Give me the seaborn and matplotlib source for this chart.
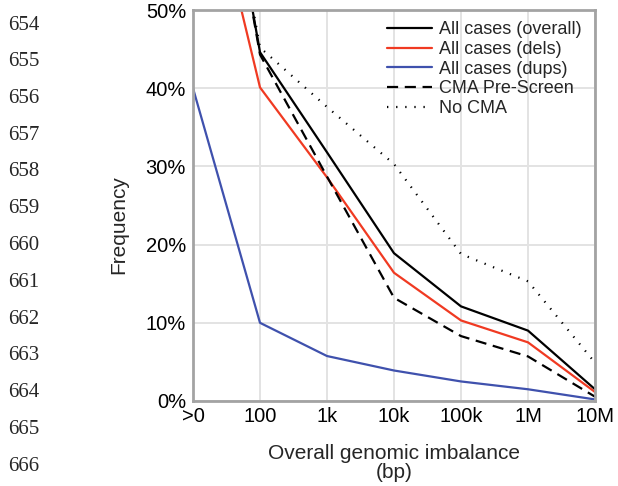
import seaborn as sns
import matplotlib.pyplot as plt
import pandas as pd

# x categories (log-spaced bins of imbalance size)
x_labels = [">0", "100", "1k", "10k", "100k", "1M", "10M"]

# frequencies in %
overall = [93, 44.6, 31.8, 18.9, 12.1, 9.0, 1.5]
dels = [75.7, 40.1, 28.6, 16.4, 10.3, 7.5, 1.15]
dups = [40.0, 10.0, 5.75, 3.9, 2.5, 1.5, 0.2]
pre_screen = [93, 44.3, 28.7, 13.2, 8.3, 5.7, 0.55]
no_cma = [93, 45.2, 37.6, 30.3, 18.8, 15.3, 4.9]

series_names = ["All cases (overall)", "All cases (dels)", "All cases (dups)",
                "CMA Pre-Screen", "No CMA"]
series_vals = [overall, dels, dups, pre_screen, no_cma]
colors = ["black", "#f03a22", "#3f51ad", "black", "black"]
styles = ["-", "-", "-", (0, (5, 3)), (0, (0.6, 3.5))]

line_numbers = list(range(654, 667))

rows = []
for name, vals in zip(series_names, series_vals):
    for i, v in enumerate(vals):
        rows.append({"series": name, "x": i, "freq": v})
df = pd.DataFrame(rows)

sns.set_theme(style="whitegrid")
plt.rcParams["font.family"] = ["Liberation Sans", "DejaVu Sans"]

fig = plt.figure(figsize=(6.18, 4.86), dpi=100)
ax = fig.add_axes([193 / 618, 1 - 401 / 486, 402 / 618, 391 / 486])

for name, c, ls in zip(series_names, colors, styles):
    sub = df[df["series"] == name]
    sns.lineplot(data=sub, x="x", y="freq", ax=ax, color=c, linestyle=ls,
                 linewidth=1.6, label=name)

ax.set_xlim(0, len(x_labels) - 1)
ax.set_ylim(0, 50)
ax.set_xticks(range(len(x_labels)))
ax.set_xticklabels(x_labels)
ax.set_yticks([0, 10, 20, 30, 40, 50])
ax.set_yticklabels([f"{t}%" for t in [0, 10, 20, 30, 40, 50]])

ax.grid(True, color="#e3e3e3", linewidth=1.4)
for s in ax.spines.values():
    s.set_color("#a3a3a3")
    s.set_linewidth(2)
    s.set_visible(True)
ax.tick_params(axis="both", labelsize=14.5, colors="#a3a3a3", labelcolor="black",
               length=4, width=1.2, pad=1)
ax.tick_params(axis="x", pad=0)

ax.set_xlabel("Overall genomic imbalance\n(bp)", fontsize=15, labelpad=13,
              linespacing=1.0)
ax.set_ylabel("Frequency", fontsize=15)
ax.yaxis.set_label_coords(-0.16, 0.45)

leg = ax.legend(loc="upper right", frameon=False, fontsize=13,
                handlelength=2.5, handletextpad=0.4, labelspacing=0.15,
                borderaxespad=0.0, bbox_to_anchor=(0.985, 0.99))

for i, n in enumerate(line_numbers):
    y = 25 + i * 36.75
    fig.text(8 / 618, 1 - y / 486, str(n), fontsize=15,
             family=["Liberation Serif", "DejaVu Serif"], va="center", ha="left")

fig.savefig("out.png", dpi=100)
